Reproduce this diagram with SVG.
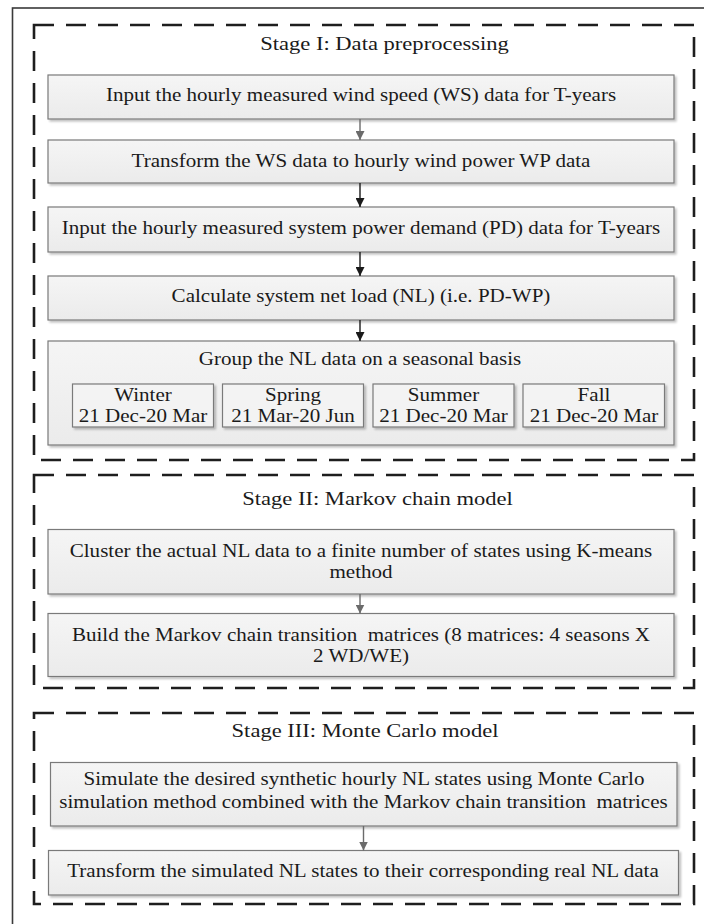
<svg xmlns="http://www.w3.org/2000/svg" width="704" height="924" viewBox="0 0 704 924">
  <defs>
    <linearGradient id="boxFill" x1="0" y1="0" x2="0" y2="1">
      <stop offset="0" stop-color="#f5f5f5"/>
      <stop offset="1" stop-color="#ebebeb"/>
    </linearGradient>
    <filter id="shadow" x="-5%" y="-10%" width="110%" height="130%">
      <feGaussianBlur in="SourceAlpha" stdDeviation="1.2"/>
      <feOffset dx="2" dy="2" result="blur"/>
      <feComponentTransfer><feFuncA type="linear" slope="0.25"/></feComponentTransfer>
      <feMerge><feMergeNode/><feMergeNode in="SourceGraphic"/></feMerge>
    </filter>
    <marker id="headGray" viewBox="0 0 10 10" refX="10" refY="5" markerWidth="9" markerHeight="9" markerUnits="userSpaceOnUse" orient="auto">
      <path d="M0,0 L10,5 L0,10 z" fill="#6b6b6b"/>
    </marker>
    <marker id="headBlack" viewBox="0 0 10 10" refX="10" refY="5" markerWidth="9" markerHeight="9" markerUnits="userSpaceOnUse" orient="auto">
      <path d="M0,0 L10,5 L0,10 z" fill="#1a1a1a"/>
    </marker>
  </defs>
  <style>
    text { font-family: "Liberation Serif", "Times New Roman", serif; fill: #1a1a1a; }
    .t { font-size: 18px; text-anchor: middle; }
    .h { font-size: 18.5px; text-anchor: middle; }
    .box { fill: url(#boxFill); stroke: #7a7a7a; stroke-width: 1.2; filter: url(#shadow); }
    .season { fill: #f3f3f3; stroke: #7a7a7a; stroke-width: 1.2; filter: url(#shadow); }
    .stage { fill: none; stroke: #1e1e1e; stroke-width: 2.6; stroke-dasharray: 20 12; }
    .gray { stroke: #6b6b6b; stroke-width: 1.4; fill: none; marker-end: url(#headGray); }
    .black { stroke: #1a1a1a; stroke-width: 1.4; fill: none; marker-end: url(#headBlack); }
  </style>

  <rect width="704" height="924" fill="#ffffff"/>
  <!-- outer frame -->
  <rect x="12.5" y="8" width="720" height="940" fill="none" stroke="#3a3a3a" stroke-width="1.6"/>

  <!-- stage containers -->
  <g id="stage1">
    <rect class="stage" x="34" y="25" width="660" height="435"/>
    <text class="h" transform="translate(384.5,50) scale(1.22,1)">Stage I: Data preprocessing</text>
  </g>
  <g id="stage2">
    <rect class="stage" x="34" y="475" width="660" height="213"/>
    <text class="h" transform="translate(377.5,505) scale(1.22,1)">Stage II: Markov chain model</text>
  </g>
  <g id="stage3">
    <rect class="stage" x="34" y="713" width="660" height="191"/>
    <text class="h" transform="translate(365,737) scale(1.22,1)">Stage III: Monte Carlo model</text>
  </g>

  <!-- stage I nodes -->
  <g id="input-ws">
    <rect class="box" x="48" y="75" width="626" height="44"/>
    <text class="t" transform="translate(361,101) scale(1.17,1)">Input the hourly measured wind speed (WS) data for T-years</text>
  </g>
  <g id="ws-to-wp">
    <rect class="box" x="48" y="140" width="626" height="43"/>
    <text class="t" transform="translate(361,166.5) scale(1.17,1)">Transform the WS data to hourly wind power WP data</text>
  </g>
  <g id="input-pd">
    <rect class="box" x="48" y="207" width="626" height="45"/>
    <text class="t" transform="translate(361,233.5) scale(1.17,1)">Input the hourly measured system power demand (PD) data for T-years</text>
  </g>
  <g id="net-load">
    <rect class="box" x="48" y="276" width="626" height="44"/>
    <text class="t" transform="translate(361,302) scale(1.17,1)">Calculate system net load (NL) (i.e. PD-WP)</text>
  </g>
  <g id="seasonal-group">
    <rect class="box" x="48" y="341" width="626" height="104"/>
    <text class="t" transform="translate(360,365) scale(1.17,1)">Group the NL data on a seasonal basis</text>
  </g>
  <g id="winter">
    <rect class="season" x="72.5" y="384" width="141" height="43"/>
    <text class="t" transform="translate(143,401) scale(1.17,1)">Winter</text>
    <text class="t" transform="translate(143,421.5) scale(1.17,1)">21 Dec-20 Mar</text>
  </g>
  <g id="spring">
    <rect class="season" x="222.5" y="384" width="141" height="43"/>
    <text class="t" transform="translate(293,401) scale(1.17,1)">Spring</text>
    <text class="t" transform="translate(293,421.5) scale(1.17,1)">21 Mar-20 Jun</text>
  </g>
  <g id="summer">
    <rect class="season" x="373" y="384" width="141" height="43"/>
    <text class="t" transform="translate(443.5,401) scale(1.17,1)">Summer</text>
    <text class="t" transform="translate(443.5,421.5) scale(1.17,1)">21 Dec-20 Mar</text>
  </g>
  <g id="fall">
    <rect class="season" x="523" y="384" width="141.5" height="43"/>
    <text class="t" transform="translate(594,401) scale(1.17,1)">Fall</text>
    <text class="t" transform="translate(594,421.5) scale(1.17,1)">21 Dec-20 Mar</text>
  </g>

  <!-- stage II nodes -->
  <g id="cluster">
    <rect class="box" x="48" y="529.5" width="626" height="64.5"/>
    <text class="t" transform="translate(361,557) scale(1.17,1)">Cluster the actual NL data to a finite number of states using K-means</text>
    <text class="t" transform="translate(361,577.5) scale(1.17,1)">method</text>
  </g>
  <g id="transition-matrices">
    <rect class="box" x="48" y="613.5" width="626" height="63"/>
    <text class="t" transform="translate(361,640.5) scale(1.17,1)" xml:space="preserve">Build the Markov chain transition  matrices (8 matrices: 4 seasons X</text>
    <text class="t" transform="translate(361,661.5) scale(1.17,1)">2 WD/WE)</text>
  </g>

  <!-- stage III nodes -->
  <g id="simulate">
    <rect class="box" x="50.5" y="762.5" width="626.5" height="63.5"/>
    <text class="t" transform="translate(364,785) scale(1.17,1)">Simulate the desired synthetic hourly NL states using Monte Carlo</text>
    <text class="t" transform="translate(363.5,808) scale(1.17,1)" xml:space="preserve">simulation method combined with the Markov chain transition  matrices</text>
  </g>
  <g id="to-real">
    <rect class="box" x="48.5" y="850.5" width="630" height="44.5"/>
    <text class="t" transform="translate(363,876.5) scale(1.17,1)">Transform the simulated NL states to their corresponding real NL data</text>
  </g>

  <!-- connectors -->
  <g id="connectors">
    <line class="gray" x1="360" y1="119" x2="360" y2="140"/>
    <line class="black" x1="360" y1="183" x2="360" y2="207"/>
    <line class="black" x1="360" y1="252" x2="360" y2="276"/>
    <line class="black" x1="360" y1="320" x2="360" y2="341"/>
    <line class="gray" x1="360" y1="594" x2="360" y2="613.5"/>
    <line class="gray" x1="363.5" y1="826" x2="363.5" y2="850.5"/>
  </g>
</svg>
